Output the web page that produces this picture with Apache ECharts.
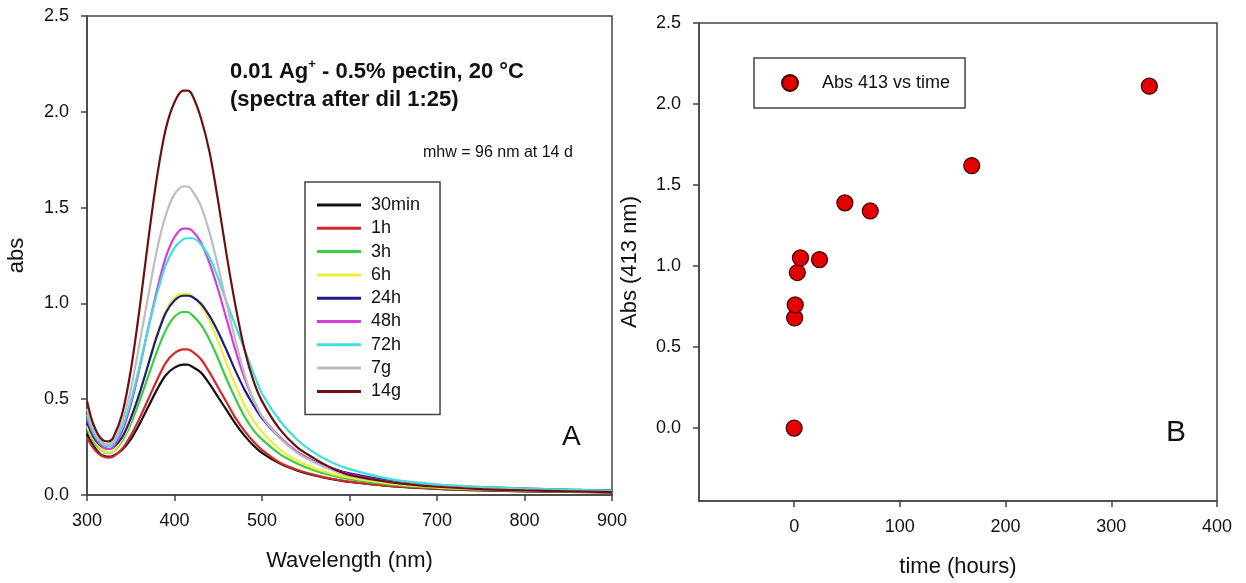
<!DOCTYPE html>
<html><head><meta charset="utf-8">
<script src="https://cdn.jsdelivr.net/npm/echarts@6/dist/echarts.min.js"></script>
<style>html,body{margin:0;padding:0;background:#fff}#c{width:1246px;height:583px}</style>
</head><body><div id="c"></div>
<script>
// ---- Panel A: UV-vis spectra ----
const wavelengths = [300,305,310,315,320,325,330,340,350,360,370,380,390,400,410,415,420,430,440,450,460,470,480,490,500,520,540,560,580,600,650,700,750,800,850,900];
const spec30min = [.32,.275,.24,.215,.203,.20,.205,.235,.29,.37,.46,.55,.625,.665,.68,.68,.67,.64,.58,.51,.44,.37,.31,.26,.22,.165,.128,.102,.083,.068,.045,.032,.024,.019,.016,.013];
const spec1h    = [.30,.26,.23,.21,.198,.195,.20,.24,.31,.40,.50,.60,.69,.74,.76,.76,.75,.71,.64,.56,.48,.40,.335,.28,.235,.17,.132,.105,.085,.07,.046,.033,.025,.02,.017,.014];
const spec3h    = [.35,.30,.265,.24,.225,.22,.228,.28,.37,.49,.62,.75,.86,.93,.955,.955,.94,.89,.81,.71,.60,.50,.41,.34,.29,.215,.165,.128,.102,.083,.053,.037,.028,.022,.018,.015];
const spec6h    = [.36,.31,.275,.245,.228,.222,.23,.29,.39,.53,.69,.84,.96,1.03,1.05,1.05,1.04,.99,.91,.80,.68,.57,.47,.39,.33,.24,.18,.14,.11,.09,.058,.04,.03,.024,.02,.017];
const spec24h   = [.38,.325,.285,.26,.245,.24,.248,.30,.40,.53,.68,.83,.95,1.015,1.04,1.04,1.035,1.00,.935,.85,.75,.645,.55,.47,.40,.30,.225,.175,.14,.113,.073,.052,.041,.034,.028,.024];
const spec48h   = [.40,.34,.295,.265,.245,.24,.25,.33,.47,.66,.87,1.07,1.24,1.345,1.39,1.39,1.38,1.32,1.21,1.07,.91,.75,.61,.50,.41,.305,.225,.172,.135,.108,.067,.047,.035,.028,.023,.019];
const spec72h   = [.42,.35,.305,.275,.258,.255,.265,.35,.49,.67,.87,1.05,1.20,1.29,1.335,1.34,1.34,1.31,1.24,1.13,1.00,.88,.76,.64,.53,.39,.29,.22,.17,.135,.08,.056,.042,.034,.028,.023];
const spec7g    = [.45,.37,.32,.285,.268,.265,.28,.38,.55,.79,1.04,1.28,1.46,1.57,1.61,1.61,1.59,1.51,1.37,1.19,.99,.80,.63,.50,.41,.30,.22,.17,.13,.10,.065,.045,.033,.026,.021,.017];
const spec14g   = [.49,.40,.34,.30,.282,.28,.30,.42,.65,.97,1.33,1.66,1.91,2.05,2.11,2.11,2.09,1.97,1.79,1.53,1.24,.98,.76,.60,.49,.345,.25,.19,.14,.105,.065,.043,.031,.024,.019,.015];
const seriesNames = ['30min','1h','3h','6h','24h','48h','72h','7g','14g'];
const seriesValues = [spec30min,spec1h,spec3h,spec6h,spec24h,spec48h,spec72h,spec7g,spec14g];
const seriesColors = ['#111111','#d62828','#3ccc3c','#eeee38','#1c1c8a','#d63cd6','#40dede','#bdbdbd','#6e1010'];

// ---- Panel B: Abs at 413 nm vs time ----
const timeHours = [0,0.5,1,3,6,24,48,72,168,336];
const abs413    = [0,0.68,0.76,0.96,1.05,1.04,1.39,1.34,1.62,2.11];
const xTicksB = [0,100,200,300,400];
const yTicksB = [0,0.5,1,1.5,2,2.5];

const FONT = '"Liberation Sans", Arial, sans-serif';
const TXT = '#111';
const AX = '#444';

function axisCommon(extra){
  return Object.assign({
    type:'value',
    axisLine:{show:true,onZero:false,lineStyle:{color:AX,width:1.5}},
    axisTick:{show:true,inside:false,length:6,lineStyle:{color:AX,width:1.5}},
    axisLabel:{fontSize:18,color:TXT,fontFamily:FONT,margin:17},
    splitLine:{show:false},
    nameLocation:'middle',
    nameTextStyle:{fontSize:22,color:TXT,fontFamily:FONT}
  }, extra);
}

const lineSeries = seriesNames.map((n,i)=>({
  name:n, type:'line', xAxisIndex:0, yAxisIndex:0,
  symbol:'none', smooth:0.3,
  lineStyle:{color:seriesColors[i],width:2.2},
  itemStyle:{color:seriesColors[i]},
  data: wavelengths.map((w,j)=>[w,seriesValues[i][j]])
}));

const chart = echarts.init(document.getElementById('c'));
chart.setOption({
  animation:false,
  backgroundColor:'#fff',
  textStyle:{fontFamily:FONT},
  grid:[
    {left:87,right:634,top:16,bottom:88,show:true,borderColor:AX,borderWidth:1.5,backgroundColor:'transparent'},
    {left:699,right:29,top:23,bottom:82,show:true,borderColor:AX,borderWidth:1.5,backgroundColor:'transparent'}
  ],
  xAxis:[
    axisCommon({gridIndex:0,min:300,max:900,interval:100,name:'Wavelength (nm)',nameGap:55}),
    axisCommon({gridIndex:1,min:-90,max:400,name:'time (hours)',nameGap:55,
      axisTick:{show:true,inside:false,length:6,lineStyle:{color:AX,width:1.5},customValues:xTicksB},
      axisLabel:{fontSize:18,color:TXT,fontFamily:FONT,margin:17,customValues:xTicksB}})
  ],
  yAxis:[
    axisCommon({gridIndex:0,min:0,max:2.5,interval:0.5,name:'abs',nameGap:59,
      axisLabel:{fontSize:18,color:TXT,fontFamily:FONT,margin:18,formatter:v=>v.toFixed(1)}}),
    axisCommon({gridIndex:1,min:-0.45,max:2.5,name:'Abs (413 nm)',nameGap:58,
      axisTick:{show:true,inside:false,length:6,lineStyle:{color:AX,width:1.5},customValues:yTicksB},
      axisLabel:{fontSize:18,color:TXT,fontFamily:FONT,margin:18,customValues:yTicksB,formatter:v=>Number(v).toFixed(1)}})
  ],
  title:[
    {text:'{a|0.01 Ag}{s|+}{a| - 0.5% pectin, 20 °C}\n{a|(spectra after dil 1:25)}',left:230,top:58,padding:0,
      textStyle:{rich:{
        a:{fontSize:22,fontWeight:'bold',color:TXT,fontFamily:FONT,lineHeight:28},
        s:{fontSize:13,fontWeight:'bold',color:TXT,fontFamily:FONT,lineHeight:28,verticalAlign:'top',padding:[0,0,14,0]}
      }}},
    {text:'mhw = 96 nm at 14 d',left:423,top:144,padding:0,textStyle:{fontSize:16,fontWeight:'normal',color:TXT,fontFamily:FONT,lineHeight:18}},
    {text:'A',left:562,top:423,padding:0,textStyle:{fontSize:28,fontWeight:'normal',color:TXT,fontFamily:FONT,lineHeight:28}},
    {text:'B',left:1166,top:418,padding:0,textStyle:{fontSize:30,fontWeight:'normal',color:TXT,fontFamily:FONT,lineHeight:30}}
  ],
  legend:[
    {data:seriesNames.map(n=>({name:n,icon:'rect'})),orient:'vertical',left:305,top:182,padding:[13,20,13,12],
      itemWidth:44,itemHeight:3,itemGap:3.3,borderColor:AX,borderWidth:1.5,backgroundColor:'#fff',
      selectedMode:false,
      textStyle:{fontSize:18,color:TXT,fontFamily:FONT,lineHeight:20,padding:[0,0,0,5]}},
    {data:['Abs 413 vs time'],orient:'vertical',left:754,top:58,padding:[16,15,16,27],
      itemWidth:16,itemHeight:16,borderColor:AX,borderWidth:1.5,selectedMode:false,
      textStyle:{fontSize:18,color:TXT,fontFamily:FONT,padding:[0,0,0,19]}}
  ],
  series:[
    ...lineSeries,
    {name:'Abs 413 vs time',type:'scatter',xAxisIndex:1,yAxisIndex:1,symbol:'circle',symbolSize:16,
      itemStyle:{color:'#e30000',borderColor:'#3a0000',borderWidth:1.2,opacity:1},
      data: timeHours.map((t,i)=>[t,abs413[i]])}
  ]
});
</script></body></html>
